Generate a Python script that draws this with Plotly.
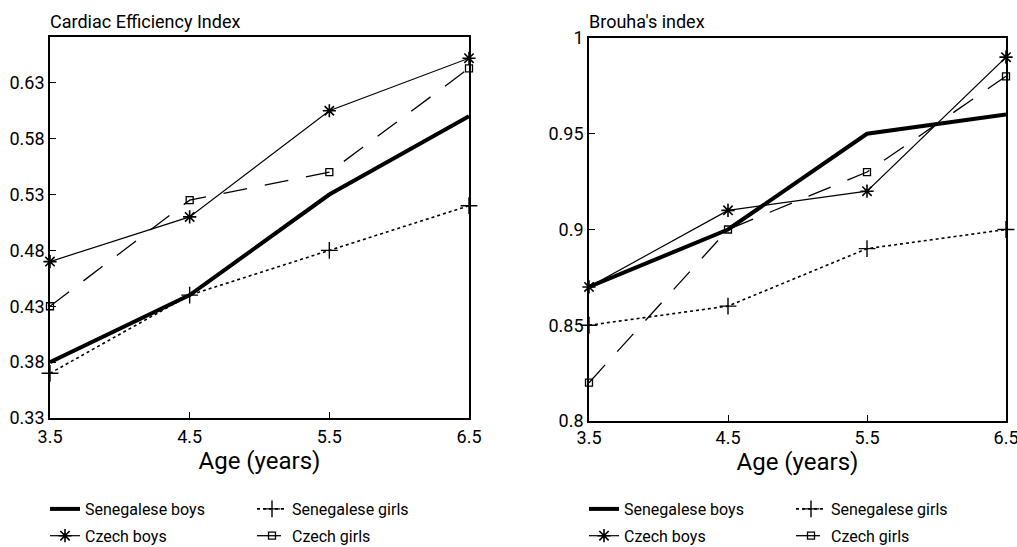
import plotly.graph_objects as go

ages = [3.5, 4.5, 5.5, 6.5]

# Cardiac Efficiency Index
cei_sen_boys = [0.38, 0.44, 0.53, 0.60]
cei_sen_girls = [0.37, 0.44, 0.48, 0.52]
cei_cz_boys = [0.47, 0.51, 0.605, 0.652]
cei_cz_girls = [0.43, 0.525, 0.55, 0.643]

# Brouha's index
br_sen_boys = [0.87, 0.90, 0.95, 0.96]
br_sen_girls = [0.85, 0.86, 0.89, 0.90]
br_cz_boys = [0.87, 0.91, 0.92, 0.99]
br_cz_girls = [0.82, 0.90, 0.93, 0.98]

series_names = ["Senegalese boys", "Senegalese girls", "Czech boys", "Czech girls"]
cei_tickvals = [0.33, 0.38, 0.43, 0.48, 0.53, 0.58, 0.63]
br_tickvals = [0.8, 0.85, 0.9, 0.95, 1.0]
br_ticktext = ["0.8", "0.85", "0.9", "0.95", "1"]
x_tickvals = [3.5, 4.5, 5.5, 6.5]
x_ticktext = ["3.5", "4.5", "5.5", "6.5"]

W, H = 1017, 547
FONT = "Roboto, Liberation Sans, sans-serif"


def px(x):
    return x / W


def py(y):
    return 1 - y / H


styles = [
    dict(mode="lines", line=dict(color="black", width=4), marker=dict()),
    dict(mode="lines+markers", line=dict(color="black", width=1.6, dash="dot"),
         marker=dict(symbol="cross-thin-open", size=12, line=dict(width=1.4, color="black"))),
    dict(mode="lines+markers", line=dict(color="black", width=1.2),
         marker=dict(symbol="asterisk-open", size=11, line=dict(width=1.6, color="black"))),
    dict(mode="lines+markers", line=dict(color="black", width=1.3, dash="24px,18px"),
         marker=dict(symbol="square-open", size=7, line=dict(width=1.3, color="black"))),
]
# legend columns: boys in the first column, girls in the second column
left_legends = ["legend", "legend2", "legend", "legend2"]
right_legends = ["legend3", "legend4", "legend3", "legend4"]

fig = go.Figure()
for name, ys, st, lg in zip(series_names,
                            [cei_sen_boys, cei_sen_girls, cei_cz_boys, cei_cz_girls],
                            styles, left_legends):
    fig.add_trace(go.Scatter(x=ages, y=ys, name=name, xaxis="x", yaxis="y",
                             mode=st["mode"], line=st["line"], marker=st["marker"],
                             cliponaxis=False, legend=lg, legendgroup="L" + name))
for name, ys, st, lg in zip(series_names,
                            [br_sen_boys, br_sen_girls, br_cz_boys, br_cz_girls],
                            styles, right_legends):
    fig.add_trace(go.Scatter(x=ages, y=ys, name=name, xaxis="x2", yaxis="y2",
                             mode=st["mode"], line=st["line"], marker=st["marker"],
                             cliponaxis=False, legend=lg, legendgroup="R" + name))

axis_common = dict(showline=True, linecolor="black", linewidth=1.6, mirror=True,
                   ticks="inside", ticklen=6, tickcolor="black", tickwidth=1.2,
                   showgrid=False, zeroline=False,
                   tickfont=dict(family=FONT, size=18, color="black"),
                   automargin=False, ticklabeloverflow="allow")
xtitle = dict(text="Age (years)", font=dict(family=FONT, size=24, color="black"), standoff=6)

fig.update_layout(
    width=W, height=H,
    margin=dict(l=0, r=0, t=0, b=0, autoexpand=False),
    paper_bgcolor="white", plot_bgcolor="white",
    font=dict(family=FONT, color="black"),
    xaxis=dict(domain=[px(50), px(469)], range=[3.5, 6.5], tickvals=x_tickvals,
               ticktext=x_ticktext, anchor="y", title=xtitle, ticklabelstandoff=2,
               **axis_common),
    yaxis=dict(domain=[py(418), py(37)], range=[0.33, 0.671], tickvals=cei_tickvals,
               ticktext=[f"{v:.2f}" for v in cei_tickvals], anchor="x",
               ticklabelstandoff=0, **axis_common),
    xaxis2=dict(domain=[px(589), px(1006)], range=[3.5, 6.5], tickvals=x_tickvals,
                ticktext=x_ticktext, anchor="y2", title=xtitle, ticklabelstandoff=0,
                **axis_common),
    yaxis2=dict(domain=[py(421), py(38)], range=[0.8, 1.0], tickvals=br_tickvals,
                ticktext=br_ticktext, anchor="x2", ticklabelstandoff=0, **axis_common),
    showlegend=True,
)

leg_common = dict(orientation="v", yanchor="top", xanchor="left", y=py(492),
                  bgcolor="rgba(0,0,0,0)", font=dict(family=FONT, size=16, color="black"),
                  tracegroupgap=3, itemwidth=30)
fig.update_layout(
    legend=dict(x=px(45), **leg_common),
    legend2=dict(x=px(252), **leg_common),
    legend3=dict(x=px(584), **leg_common),
    legend4=dict(x=px(791), **leg_common),
)

fig.add_annotation(text="Cardiac Efficiency Index", xref="paper", yref="paper",
                   x=px(48), y=py(21), xanchor="left", yanchor="middle",
                   showarrow=False, font=dict(family=FONT, size=18, color="black"))
fig.add_annotation(text="Brouha's index", xref="paper", yref="paper",
                   x=px(587), y=py(21), xanchor="left", yanchor="middle",
                   showarrow=False, font=dict(family=FONT, size=18, color="black"))

fig.write_html("out.html", config={"displayModeBar": False},
               post_script="document.body.style.margin='0';document.body.style.overflow='hidden';")
